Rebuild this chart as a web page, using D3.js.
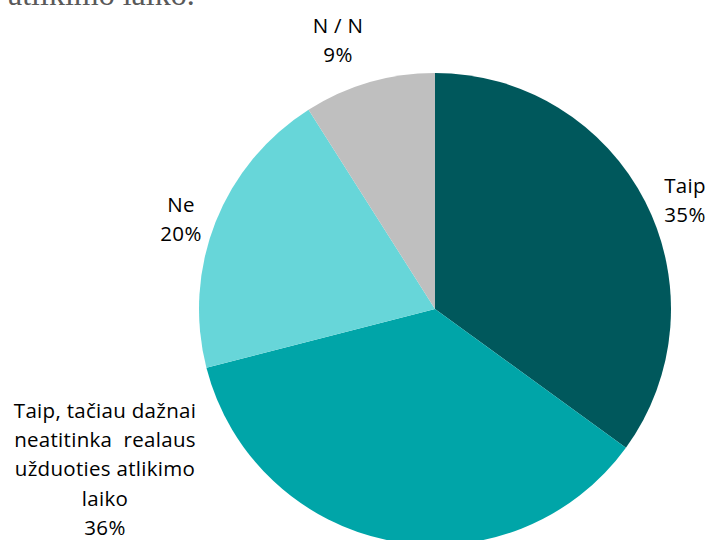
<!DOCTYPE html>
<html>
<head>
<meta charset="utf-8">
<script src="https://cdn.jsdelivr.net/npm/d3@7"></script>
<style>
  body { margin: 0; background: #fff; }
  svg { display: block; }
  text, tspan { white-space: pre; }
</style>
</head>
<body>
<svg id="chart" width="710" height="540"></svg>
<script>
// answer categories, share of respondents (%)
const categories = ["Taip", "Taip, tačiau dažnai neatitinka  realaus užduoties atlikimo laiko", "Ne", "N / N"];
const values = [35, 36, 20, 9];
const labelLines = [
  ["Taip"],
  ["Taip, tačiau dažnai", "neatitinka  realaus", "užduoties atlikimo", "laiko"],
  ["Ne"],
  ["N / N"]
];
const colors = ["#00585c", "#00a5a8", "#67d6d9", "#bfbfbf"];

const width = 710, height = 540;
const cx = 435, cy = 309, radius = 236;

const svg = d3.select("#chart");

// cut-off caption line from the page above the chart
svg.append("text")
  .attr("x", 8)
  .attr("y", 5)
  .attr("font-family", "'Liberation Serif', 'DejaVu Serif', serif")
  .attr("font-size", 32)
  .attr("fill", "#595959")
  .text("atlikimo laiko.");

const data = categories.map((c, i) => ({ name: c, value: values[i], lines: labelLines[i], color: colors[i] }));

const pie = d3.pie().sort(null).value(d => d.value);
const arc = d3.arc().innerRadius(0).outerRadius(radius);
const arcs = pie(data);

const g = svg.append("g").attr("transform", `translate(${cx},${cy})`);

g.selectAll("path")
  .data(arcs)
  .enter()
  .append("path")
  .attr("d", arc)
  .attr("fill", d => d.data.color);

// label anchor positions (centre x, first baseline) picked to match the layout
const labelPos = [
  [685, 193],
  [105, 418],
  [181, 212],
  [338, 33]
];
const lineH = 29.2;

const labels = svg.append("g")
  .attr("font-family", "'Open Sans', Lato, sans-serif")
  .attr("font-size", 20.5)
  .attr("letter-spacing", 0.3)
  .attr("fill", "#000")
  .attr("text-anchor", "middle");

arcs.forEach((a, i) => {
  const t = labels.append("text")
    .attr("xml:space", "preserve")
    .attr("x", labelPos[i][0])
    .attr("y", labelPos[i][1]);
  const lines = a.data.lines.concat([d3.format(".0%")(a.data.value / 100)]);
  lines.forEach((l, j) => {
    t.append("tspan")
      .attr("x", labelPos[i][0])
      .attr("dy", j === 0 ? 0 : lineH)
      .text(l);
  });
});
</script>
</body>
</html>
